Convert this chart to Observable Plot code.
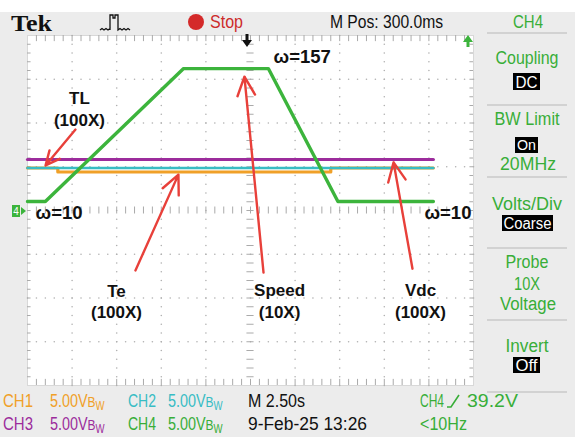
<!DOCTYPE html>
<html><head><meta charset="utf-8">
<script src="https://cdn.jsdelivr.net/npm/d3@7"></script>
<script src="https://cdn.jsdelivr.net/npm/@observablehq/plot@0.6"></script>
<style>
html,body{margin:0;padding:0;background:#fff;}
#scope{position:relative;width:575px;height:437px;}
</style></head><body><div id="scope"></div>
<script>
// CH4: rotor speed (rad/s) against time (s)
const speedTime  = [0, 1.0, 8.75, 13.5, 17.4, 22.75];
const speedValue = [10, 10, 157, 157, 10, 10];
// CH3: DC-link voltage, screen volts
const vdcTime  = [0, 22.75];
const vdcValue = [5.83, 5.83];
// CH2: load torque, screen volts
const tlTime  = [0, 22.75];
const tlValue = [4.86, 4.86];
// CH1: electromagnetic torque, screen volts
const teTime  = [0, 1.7, 1.7, 17.0, 17.0, 22.75];
const teValue = [4.86, 4.86, 4.4, 4.4, 4.86, 4.86];

const voltsPerDiv = 5;      // CH1..CH3 setting
const speedPerDiv = 48.4;   // CH4 speed scaling
const secPerDiv = 2.5;      // M 2.50s

const C = {ch1:"#f0a028", ch2:"#38bcc4", ch3:"#9c2c9c", ch4:"#3cb43c", red:"#e8403a"};

const rows = (ts, vs, per) => ts.map((t, i) => ({t, d: vs[i] / per}));

// graticule: 10 x 8 divisions, dotted every 0.2 div
const fine = d3.range(0, 10.001, 0.2);
const fineY = d3.range(-4, 4.001, 0.2);
const gridDots = [];
for (let k = 1; k < 10; k++) if (k !== 5) for (const d of fineY) gridDots.push({t: k*secPerDiv, d});
for (let k = -3; k <= 3; k++) if (k !== 0) for (const f of fine) gridDots.push({t: f*secPerDiv, d: k});
const edgeX = fine.slice(1, -1).map(f => f*secPerDiv);
const edgeY = fineY.slice(1, -1);

const grey = "#aaaaaa";
const LABEL_FONT = "Liberation Sans, Arial, sans-serif";
const chart = Plot.plot({
  width: 575, height: 437,
  marginLeft: 27, marginRight: 102, marginTop: 35, marginBottom: 52,
  x: {domain: [0, 10*secPerDiv], axis: null},
  y: {domain: [-4, 4], axis: null},
  style: {background: "transparent", overflow: "visible"},
  marks: [
    Plot.frame({fill: "white", stroke: "#d8d8d8"}),
    Plot.dot(gridDots, {x: "t", y: "d", r: 0.8, fill: "#b0b0b0", stroke: null}),
    Plot.ruleX(edgeX, {x: d => d, y1: 4, y2: 3.86, stroke: grey}),
    Plot.ruleX(edgeX, {x: d => d, y1: -4, y2: -3.86, stroke: grey}),
    Plot.ruleY(edgeY, {y: d => d, x1: 0, x2: 0.2, stroke: grey}),
    Plot.ruleY(edgeY, {y: d => d, x1: 25, x2: 24.8, stroke: grey}),
    Plot.ruleX(edgeX, {x: d => d, y1: -0.08, y2: 0.08, stroke: grey}),
    Plot.ruleY(edgeY, {y: d => d, x1: 12.5 - 0.2, x2: 12.5 + 0.2, stroke: grey}),
    // traces
    Plot.line(rows(teTime, teValue, voltsPerDiv), {x: "t", y: "d", stroke: C.ch1, strokeWidth: 3.2}),
    Plot.line(rows(tlTime, tlValue, voltsPerDiv), {x: "t", y: "d", stroke: C.ch2, strokeWidth: 2.6}),
    Plot.line(rows(vdcTime, vdcValue, voltsPerDiv), {x: "t", y: "d", stroke: C.ch3, strokeWidth: 3.2}),
    Plot.line(rows(speedTime, speedValue, speedPerDiv), {x: "t", y: "d", stroke: C.ch4, strokeWidth: 3.4}),
    // annotations
    Plot.arrow([
      {x1: 2.69, y1: 1.85, x2: 1.01, y2: 1.03},
      {x1: 6.05, y1: -1.37, x2: 8.46, y2: 0.82},
      {x1: 13.23, y1: -1.42, x2: 12.16, y2: 3.06},
      {x1: 21.58, y1: -1.33, x2: 20.52, y2: 1.10}
    ], {x1: "x1", y1: "y1", x2: "x2", y2: "y2", stroke: C.red, strokeWidth: 2.4, headLength: 13, headAngle: 50}),
    Plot.text([
      {t: 2.91, d: 2.34, s: "TL\n(100X)"},
      {t: 4.99, d: -2.07, s: "Te\n(100X)"},
      {t: 14.13, d: -2.05, s: "Speed\n(10X)"},
      {t: 22.03, d: -2.05, s: "Vdc\n(100X)"}
    ], {x: "t", y: "d", text: "s", fill: "#111", fontSize: 17, fontWeight: "bold",
        fontFamily: LABEL_FONT, lineHeight: 1.25, textAnchor: "middle"}),
    Plot.text([
      {t: 13.79, d: 3.5, v: speedValue[2]},
      {t: 0.45, d: -0.07, v: speedValue[0]},
      {t: 22.25, d: -0.05, v: speedValue[5]}
    ], {x: "t", y: "d", text: d => "ω=" + d.v, fill: "#111", fontSize: 18.5, fontWeight: "bold",
        fontFamily: LABEL_FONT, textAnchor: "start"})
  ]
});
document.getElementById("scope").appendChild(chart);

// instrument chrome around the graticule
const svg = d3.select(chart);
svg.insert("rect", ":first-child").attr("x", 0).attr("y", 12).attr("width", 575).attr("height", 425).attr("fill", "#ececec");
const g = svg.append("g").attr("text-anchor", "start");
const FONT = "Liberation Sans, Arial, sans-serif";
function txt(s, x, y, o = {}) {
  const t = g.append("text").attr("x", x).attr("y", y).text(s)
    .attr("fill", o.fill || "#111").attr("font-size", o.size || 18)
    .attr("font-family", o.family || FONT).attr("font-weight", o.weight || "normal")
    .attr("text-anchor", o.anchor || "start");
  if (o.len) t.attr("textLength", o.len).attr("lengthAdjust", "spacingAndGlyphs");
  return t;
}
function box(s, x0, x1, y0, y1, base, len, size = 16) {
  g.append("rect").attr("x", x0).attr("y", y0).attr("width", x1 - x0).attr("height", y1 - y0).attr("fill", "#000");
  txt(s, (x0 + x1) / 2, base, {fill: "#fff", size, anchor: "middle", len});
}
// volts/div readout with the bandwidth-limit glyph, one text element squeezed to width
function bw(x, y, fill) {
  const t = g.append("text").attr("transform", `translate(${x},${y}) scale(0.8,1)`)
    .attr("text-anchor", "start")
    .attr("fill", fill).attr("font-size", 18).attr("font-family", FONT);
  t.append("tspan").text("5.00V");
  t.append("tspan").attr("font-size", 15).text("B");
  t.append("tspan").attr("font-size", 12).attr("dy", 3).text("W");
}

// header
txt("Tek", 11, 31, {size: 24, weight: "bold", family: "Liberation Serif, Times New Roman, serif", len: 41});
g.append("path").attr("d", "M100,30 l2,-1.5 l2,1.5 l2,-1.5 l2,1.5 l2,-1.5 L110,30 L110,15 L113,15 L113,18 L115,18 L115,15 L118,15 L118,30 l2,-1.5 l2,1.5 l2,-1.5 l2,1.5 l2,-1.5 l2,1.5")
  .attr("fill", "none").attr("stroke", "#111").attr("stroke-width", 1.3);
g.append("circle").attr("cx", 196).attr("cy", 22).attr("r", 8).attr("fill", "#d42a2a");
txt("Stop", 210, 28, {fill: "#cc2a2a", len: 33});
txt("M Pos: 300.0ms", 330, 28, {len: 113});
// trigger position and level markers
g.append("path").attr("d", "M245.5,34 h3 v6 h3.5 l-5,7 l-5,-7 h3.5 z").attr("fill", "#111");
g.append("path").attr("d", "M466.5,47 h3 v-5 h3.5 l-5,-7 l-5,7 h3.5 z").attr("fill", C.ch4);
// CH4 ground marker
g.append("rect").attr("x", 12).attr("y", 205).attr("width", 8).attr("height", 12).attr("fill", C.ch4);
txt("4", 16, 215, {fill: "#fff", size: 10, anchor: "middle"});
g.append("path").attr("d", "M21,207 L21,215 L26,211 z").attr("fill", C.ch4);

// side menu
const GT = "#38ae38";
for (const y of [33, 105, 177, 248, 320, 392])
  g.append("line").attr("x1", 487).attr("x2", 567).attr("y1", y).attr("y2", y).attr("stroke", "#b8b8b8").attr("stroke-width", 1.2);
txt("CH4", 528, 28, {fill: GT, anchor: "middle", len: 30});
txt("Coupling", 527, 64, {fill: GT, anchor: "middle", len: 63});
box("DC", 513, 540, 73, 90, 87.5, 22);
txt("BW Limit", 527, 125, {fill: GT, anchor: "middle", len: 65});
box("On", 515, 538, 137, 153, 150, 19, 15);
txt("20MHz", 528, 170, {fill: GT, anchor: "middle", len: 56, size: 17.5});
txt("Volts/Div", 527, 210, {fill: GT, anchor: "middle", len: 70});
box("Coarse", 502, 553, 215, 231, 228.5, 48);
txt("Probe", 527, 268, {fill: GT, anchor: "middle", len: 43});
txt("10X", 527, 290, {fill: GT, anchor: "middle", len: 26});
txt("Voltage", 528, 310, {fill: GT, anchor: "middle", len: 56});
txt("Invert", 527, 352, {fill: GT, anchor: "middle", len: 43});
box("Off", 513, 540, 357, 373, 370.5, 22);

// footer readouts
txt("CH1", 3, 407, {fill: C.ch1, len: 30}); bw(50, 407, C.ch1);
txt("CH2", 128, 407, {fill: C.ch2, len: 28}); bw(168, 407, C.ch2);
txt("M 2.50s", 248, 407, {len: 57});
txt("CH3", 3, 430, {fill: C.ch3, len: 30}); bw(50, 430, C.ch3);
txt("CH4", 128, 430, {fill: GT, len: 28}); bw(168, 430, GT);
txt("9-Feb-25 13:26", 248, 430, {len: 119});
txt("CH4", 420, 407, {fill: GT, len: 24});
g.append("path").attr("d", "M447,407 L451,407 L459,395").attr("fill", "none").attr("stroke", GT).attr("stroke-width", 1.6);
txt("39.2V", 467, 407, {fill: GT, len: 51});
txt("<10Hz", 420, 430, {fill: GT, len: 47});
</script></body></html>
